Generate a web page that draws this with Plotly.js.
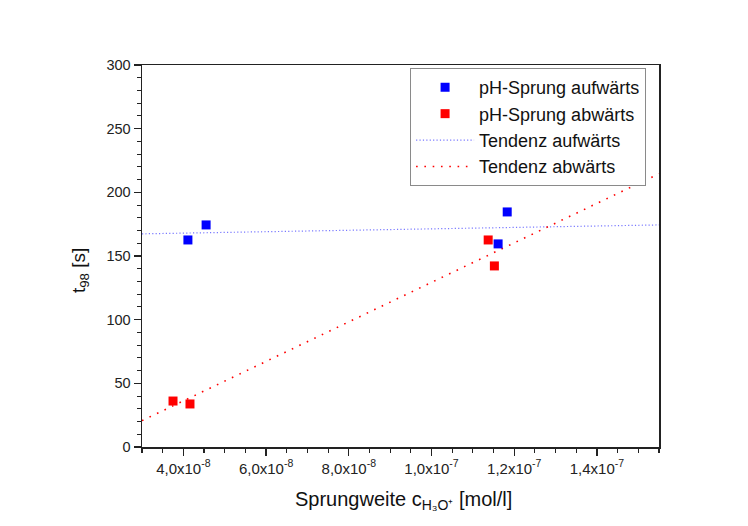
<!DOCTYPE html>
<html>
<head>
<meta charset="utf-8">
<script src="https://cdn.plot.ly/plotly-3.0.1.min.js"></script>
<style>
  html, body { margin: 0; padding: 0; background: #ffffff; }
  #chart { width: 748px; height: 526px; }
</style>
</head>
<body>
<div id="chart"></div>
<script>
// Measured response times t98 for upward / downward pH steps
const upX = [4.11e-8, 4.55e-8, 1.161e-7, 1.183e-7];
const upY = [162.6, 174.4, 159.5, 184.6];
const downX = [3.75e-8, 4.16e-8, 1.137e-7, 1.152e-7];
const downY = [36.1, 33.8, 162.6, 142.2];

// Linear trend lines, spanning the full x range
const trendX = [3.0e-8, 1.55e-7];
const trendUpY = [167.4, 174.4];
const trendDownY = [20.7, 214.6];

// X tick positions and labels
const xTickVals = [4e-8, 6e-8, 8e-8, 1e-7, 1.2e-7, 1.4e-7];
const xTickText = ['4,0x10<sup>-8</sup>', '6,0x10<sup>-8</sup>', '8,0x10<sup>-8</sup>',
                   '1,0x10<sup>-7</sup>', '1,2x10<sup>-7</sup>', '1,4x10<sup>-7</sup>'];

const FONT = '"Liberation Sans", Arial, sans-serif';

const traces = [
  {
    x: trendX, y: trendUpY, mode: 'lines', name: 'Tendenz aufwärts',
    line: { color: '#7878ff', width: 1.2, dash: '1.2px,2.2px' },
    legendrank: 3, hoverinfo: 'skip'
  },
  {
    x: trendX, y: trendDownY, mode: 'lines', name: 'Tendenz abwärts',
    line: { color: '#ff0000', width: 1.6, dash: '1.6px,6.7px' },
    legendrank: 4, hoverinfo: 'skip'
  },
  {
    x: upX, y: upY, mode: 'markers', name: 'pH-Sprung aufwärts',
    marker: { symbol: 'square', size: 9, color: '#0000ff' },
    legendrank: 1
  },
  {
    x: downX, y: downY, mode: 'markers', name: 'pH-Sprung abwärts',
    marker: { symbol: 'square', size: 9, color: '#ff0000' },
    legendrank: 2
  }
];

const layout = {
  width: 748, height: 526,
  paper_bgcolor: '#ffffff', plot_bgcolor: '#ffffff',
  margin: { l: 142, r: 89, t: 65, b: 79 },
  font: { family: FONT, color: '#222222' },
  showlegend: true,
  legend: {
    x: 0.975, y: 0.992, xanchor: 'right', yanchor: 'top',
    bgcolor: '#ffffff', bordercolor: '#8a8a8a', borderwidth: 1,
    font: { family: FONT, size: 18, color: '#111111' },
    itemwidth: 58
  },
  xaxis: {
    range: [3.0e-8, 1.55e-7],
    tickmode: 'array', tickvals: xTickVals, ticktext: xTickText,
    ticks: 'outside', ticklen: 7, tickwidth: 1.3, tickcolor: '#222',
    minor: { tickmode: 'linear', tick0: 0, dtick: 5e-9, ticks: 'outside', ticklen: 4, tickwidth: 1.1, tickcolor: '#222' },
    showline: true, linecolor: '#222', linewidth: 1.5, mirror: true,
    showgrid: false, zeroline: false,
    tickfont: { family: FONT, size: 15, color: '#222' }
  },
  yaxis: {
    range: [0, 300],
    tickmode: 'linear', tick0: 0, dtick: 50,
    ticks: 'outside', ticklen: 7, tickwidth: 1.3, tickcolor: '#222',
    minor: { tickmode: 'linear', tick0: 0, dtick: 10, ticks: 'outside', ticklen: 4, tickwidth: 1.1, tickcolor: '#222' },
    showline: true, linecolor: '#222', linewidth: 1.5, mirror: true,
    showgrid: false, zeroline: false,
    tickfont: { family: FONT, size: 14.5, color: '#222' }
  },
  // Axis titles placed as paper annotations
  annotations: [
    {
      text: 'Sprungweite c<sub>H₃O⁺</sub> [mol/l]',
      xref: 'paper', yref: 'paper', x: 0.506, y: -0.139,
      xanchor: 'center', yanchor: 'middle', showarrow: false,
      font: { family: FONT, size: 20, color: '#111' }
    },
    {
      text: 't<sub>98</sub> [s]',
      xref: 'paper', yref: 'paper', x: -0.12, y: 0.463,
      xanchor: 'center', yanchor: 'middle', showarrow: false, textangle: -90,
      font: { family: FONT, size: 19, color: '#111' }
    }
  ]
};

Plotly.newPlot('chart', traces, layout, { displayModeBar: false, staticPlot: true });
</script>
</body>
</html>
